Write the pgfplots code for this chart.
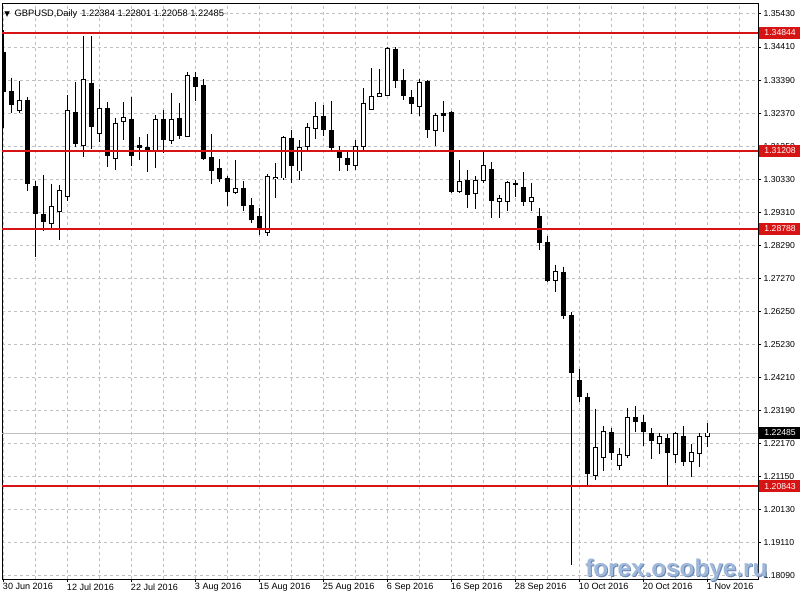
\documentclass[border=0pt]{standalone}
\usepackage{pgfplots}
\pgfplotsset{compat=1.18}
\usepackage{pgfplotstable}
\usepackage{fontspec}
\setmainfont{Liberation Sans}
\newfontfamily\dejavu{DejaVu Sans}
\definecolor{gridgray}{RGB}{192,192,192}
\definecolor{lvlred}{RGB}{215,20,20}
\definecolor{wm}{RGB}{160,184,218}
\definecolor{wmdark}{RGB}{105,135,180}

% bearish candles: x o h l c
\pgfplotstableread{
x o h l c
0 1.34249 1.34937 1.31915 1.33034
1 1.33034 1.33466 1.32386 1.32645
3 1.32769 1.32871 1.29950 1.30178
4 1.30095 1.30258 1.27915 1.29253
5 1.29231 1.30465 1.28716 1.29025
9 1.32399 1.33342 1.31307 1.31430
11 1.33293 1.34743 1.31267 1.31955
13 1.32522 1.32707 1.30690 1.31060
16 1.32183 1.32880 1.30743 1.31060
17 1.31359 1.31628 1.30906 1.31298
18 1.31298 1.31729 1.30536 1.31236
20 1.32183 1.32470 1.31134 1.31544
22 1.32214 1.32695 1.31566 1.31668
24 1.33457 1.33642 1.32756 1.33188
25 1.33210 1.33416 1.30928 1.30980
26 1.30989 1.31729 1.30166 1.30598
27 1.30650 1.30949 1.30228 1.30351
28 1.30351 1.30434 1.29509 1.29941
30 1.30043 1.30258 1.29333 1.29509
31 1.29509 1.29746 1.28975 1.29077
32 1.29160 1.29438 1.28615 1.28809
36 1.31597 1.31831 1.30209 1.30752
40 1.32275 1.32615 1.31646 1.31874
41 1.31822 1.32747 1.31236 1.31319
42 1.31153 1.31338 1.30579 1.31011
43 1.30958 1.31153 1.30588 1.30783
49 1.34342 1.34403 1.33139 1.33373
50 1.33364 1.33725 1.32778 1.32911
51 1.32849 1.33086 1.32346 1.32676
53 1.33342 1.33395 1.31606 1.31853
55 1.32346 1.32738 1.31770 1.32294
56 1.32386 1.32448 1.29901 1.29950
58 1.30271 1.30619 1.29426 1.29839
61 1.30619 1.30866 1.29117 1.29672
64 1.30197 1.30311 1.29777 1.30147
65 1.30055 1.30548 1.29487 1.29623
67 1.29179 1.29438 1.28130 1.28359
68 1.28359 1.28584 1.27165 1.27205
70 1.27452 1.27628 1.26015 1.26117
71 1.26117 1.26218 1.18407 1.24368
72 1.24103 1.24451 1.23443 1.23609
73 1.23588 1.23711 1.20874 1.21222
76 1.22499 1.22653 1.21645 1.21882
79 1.22962 1.23310 1.22530 1.22826
80 1.22807 1.23042 1.22086 1.22530
81 1.22468 1.22653 1.21685 1.22240
83 1.22323 1.22447 1.20883 1.21870
85 1.22376 1.22703 1.21469 1.21605
}\blackdata

% bullish candles: x o h l c
\pgfplotstableread{
x o h l c
2 1.32460 1.33364 1.32368 1.32769
6 1.28963 1.30187 1.28821 1.29478
7 1.29333 1.30157 1.28460 1.29972
8 1.29796 1.32932 1.29663 1.32439
10 1.31369 1.34761 1.30999 1.33395
12 1.31751 1.33117 1.31474 1.32522
14 1.30980 1.32214 1.30598 1.32059
15 1.32109 1.32707 1.31523 1.32245
19 1.31214 1.32315 1.30681 1.32183
21 1.31523 1.33003 1.31421 1.32183
23 1.31646 1.33642 1.31628 1.33518
29 1.29919 1.30928 1.29879 1.30024
33 1.28667 1.30487 1.28562 1.30413
34 1.30351 1.30826 1.29734 1.30382
35 1.30363 1.31668 1.30311 1.31628
37 1.30579 1.31544 1.30289 1.31319
38 1.31338 1.32059 1.31236 1.31936
39 1.31893 1.32716 1.31566 1.32263
44 1.30764 1.31544 1.30619 1.31338
45 1.31338 1.33139 1.31236 1.32655
46 1.32491 1.33756 1.32470 1.32880
47 1.32880 1.33725 1.32861 1.32985
48 1.32923 1.34422 1.32901 1.34372
52 1.32571 1.33416 1.32285 1.33324
54 1.31831 1.32386 1.31338 1.32306
57 1.29950 1.30906 1.29901 1.30240
59 1.29870 1.30434 1.29407 1.30289
60 1.30289 1.31153 1.30209 1.30743
62 1.29642 1.29848 1.29117 1.29716
63 1.29642 1.30258 1.29346 1.30209
66 1.29623 1.30209 1.29346 1.29746
69 1.27187 1.27680 1.26835 1.27474
74 1.21161 1.23239 1.21037 1.22036
75 1.21728 1.22703 1.21315 1.22530
77 1.21481 1.22015 1.21336 1.21821
78 1.21777 1.23248 1.21706 1.22962
82 1.22160 1.22499 1.21830 1.22376
84 1.21808 1.22530 1.21543 1.22468
86 1.21605 1.22138 1.21130 1.21870
87 1.21851 1.22499 1.21438 1.22376
88 1.22384 1.22801 1.22058 1.22485
}\whitedata

\begin{document}
\begin{tikzpicture}
\useasboundingbox (0,0) rectangle (600pt,450pt);
\begin{axis}[
  at={(1.5pt,15.75pt)}, anchor=south west,
  scale only axis, width=567pt, height=431.25pt,
  xmin=-0.1875, xmax=94.31, ymin=1.179748, ymax=1.357386,
  axis line style={black, line width=0.75pt},
  clip mode=individual,
  xtick={0,8,...,88},
  xticklabels={30 Jun 2016,12 Jul 2016,22 Jul 2016,3 Aug 2016,15 Aug 2016,25 Aug 2016,6 Sep 2016,16 Sep 2016,28 Sep 2016,10 Oct 2016,20 Oct 2016,1 Nov 2016},
  minor xtick={4,12,...,92},
  ytick={1.18090,1.19110,1.20130,1.21150,1.22170,1.23190,1.24210,1.25230,1.26250,1.27270,1.28290,1.29310,1.30330,1.31350,1.32370,1.33390,1.34410,1.35430},
  scaled y ticks=false,
  xmajorgrids, xminorgrids, ymajorgrids,
  major grid style={gridgray, dash pattern=on 2.25pt off 2.25pt, line width=0.75pt},
  minor grid style={gridgray, dash pattern=on 2.25pt off 2.25pt, line width=0.75pt},
  tick style={black, line width=0.75pt},
  major tick length=2.6pt, minor tick length=0pt,
  tick align=outside,
  xtick pos=bottom, ytick pos=right, yticklabel pos=right,
  xticklabel style={anchor=north west, inner sep=0pt, xshift=-0.6pt, yshift=-0.6pt, font=\fontsize{6.8}{8}\selectfont},
  yticklabel style={anchor=west, inner sep=0pt, xshift=1.4pt, font=\fontsize{6.5}{8}\selectfont,
     /pgf/number format/.cd, fixed, fixed zerofill, precision=5, assume math mode=true},
  candle/.style={draw=none, mark=none, error bars/.cd, y dir=minus, y explicit, error mark=none},
]
% current price line
\addplot[gridgray, line width=0.75pt] coordinates {(-5,1.22485) (100,1.22485)};
% wicks
\addplot[candle, error bar style={draw=black, line width=0.75pt, solid}]
  table[x=x, y=h, y error minus expr={\thisrow{h}-\thisrow{l}}] {\blackdata};
\addplot[candle, error bar style={draw=black, line width=0.75pt, solid}]
  table[x=x, y=h, y error minus expr={\thisrow{h}-\thisrow{l}}] {\whitedata};
% bearish bodies
\addplot[candle, error bar style={draw=black, line width=3.75pt, solid}]
  table[x=x, y expr={\thisrow{o}+0.00015}, y error minus expr={\thisrow{o}-\thisrow{c}+0.0003}] {\blackdata};
% bullish bodies: outline then white inside
\addplot[candle, error bar style={draw=black, line width=3.75pt, solid}]
  table[x=x, y expr={\thisrow{c}+0.00015}, y error minus expr={\thisrow{c}-\thisrow{o}+0.0003}] {\whitedata};
\addplot[candle, error bar style={draw=white, line width=2.25pt, solid}]
  table[x=x, y expr={\thisrow{c}-0.00015}, y error minus expr={max(\thisrow{c}-\thisrow{o}-0.0003,0)}] {\whitedata};
% horizontal levels
\addplot[lvlred, line width=1.5pt] coordinates {(-5,1.34844) (100,1.34844)};
\addplot[lvlred, line width=1.5pt] coordinates {(-5,1.31208) (100,1.31208)};
\addplot[lvlred, line width=1.5pt] coordinates {(-5,1.28788) (100,1.28788)};
\addplot[lvlred, line width=1.5pt] coordinates {(-5,1.20843) (100,1.20843)};
% price labels
\node[fill=lvlred, text=white, anchor=west, inner sep=0pt, minimum height=9pt, minimum width=31pt,
    font=\fontsize{6.5}{8}\selectfont] at ([xshift=0.9pt]axis cs:94.31,1.34844) {1.34844};
\node[fill=lvlred, text=white, anchor=west, inner sep=0pt, minimum height=9pt, minimum width=31pt,
    font=\fontsize{6.5}{8}\selectfont] at ([xshift=0.9pt]axis cs:94.31,1.31208) {1.31208};
\node[fill=lvlred, text=white, anchor=west, inner sep=0pt, minimum height=9pt, minimum width=31pt,
    font=\fontsize{6.5}{8}\selectfont] at ([xshift=0.9pt]axis cs:94.31,1.28788) {1.28788};
\node[fill=lvlred, text=white, anchor=west, inner sep=0pt, minimum height=9pt, minimum width=31pt,
    font=\fontsize{6.5}{8}\selectfont] at ([xshift=0.9pt]axis cs:94.31,1.20843) {1.20843};
\node[fill=black, text=white, anchor=west, inner sep=0pt, minimum height=9pt, minimum width=31pt,
    font=\fontsize{6.5}{8}\selectfont] at ([xshift=0.9pt]axis cs:94.31,1.22485) {1.22485};
% header
\node[anchor=north west, inner sep=0pt, font=\fontsize{7}{8}\selectfont]
  at ([xshift=1.5pt,yshift=-4pt]rel axis cs:0,1)
  {{\dejavu\fontsize{5.5}{6}\selectfont ▼}\hspace{3.5pt}GBPUSD,Daily\hspace{3pt}1.22384 1.22801 1.22058 1.22485};
% watermark
\node[anchor=base west, inner sep=0pt, text=wmdark, font=\fontsize{18.2}{22}\selectfont\bfseries]
  at ([xshift=0.8pt,yshift=-0.8pt]axis cs:72.69,1.18067) {forex.osobye.ru};
\node[anchor=base west, inner sep=0pt, text=wm, font=\fontsize{18.2}{22}\selectfont\bfseries]
  at (axis cs:72.69,1.18067) {forex.osobye.ru};
\end{axis}
\end{tikzpicture}
\end{document}
